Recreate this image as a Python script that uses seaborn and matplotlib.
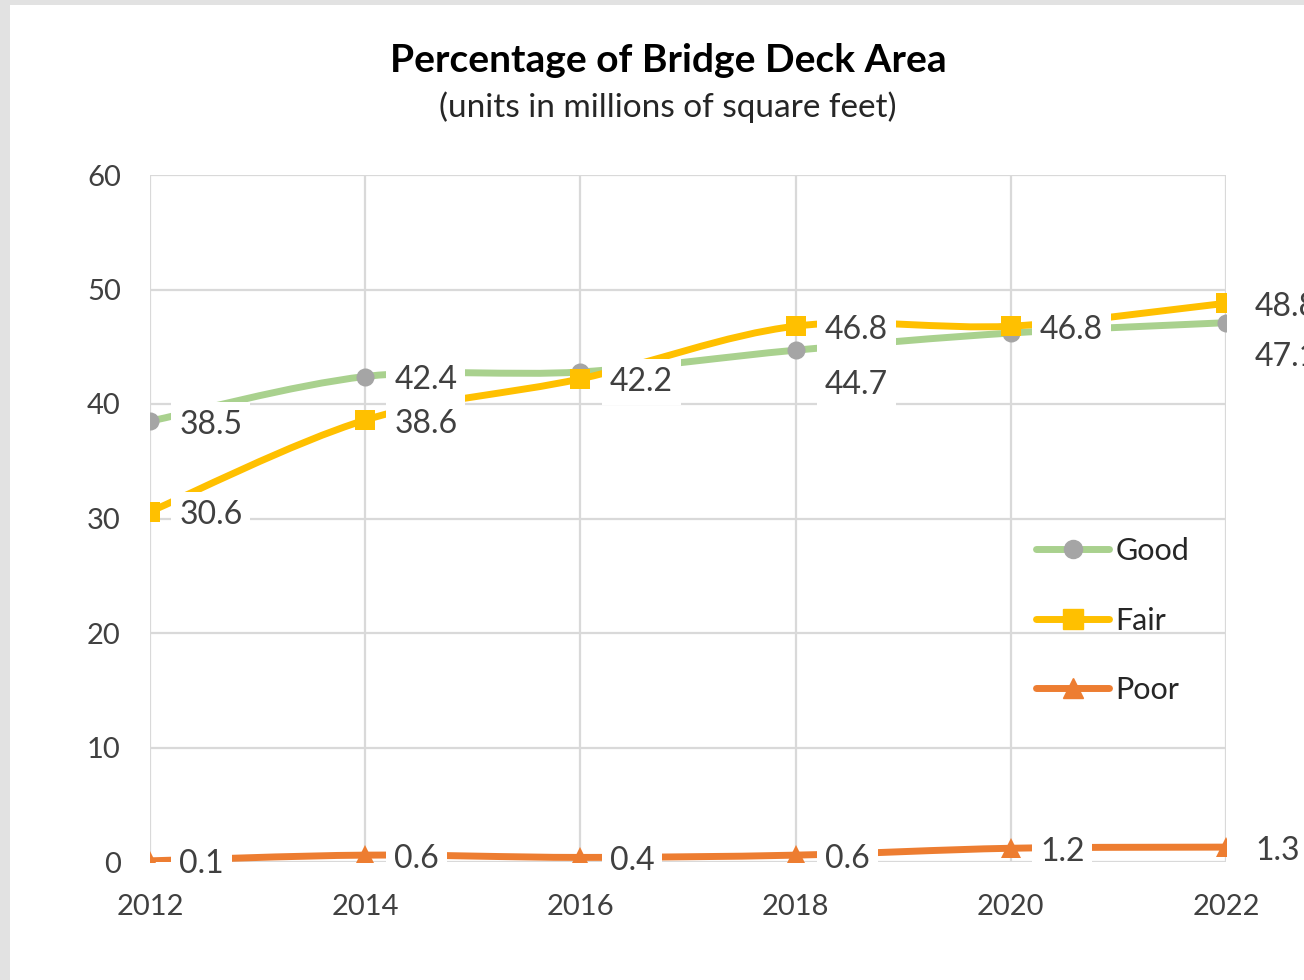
import matplotlib
matplotlib.use("Agg")
import matplotlib.pyplot as plt
import seaborn as sns
import numpy as np
from matplotlib.path import Path
from matplotlib.patches import PathPatch, Rectangle
from matplotlib.lines import Line2D

# ---- data ----
years = [2012, 2014, 2016, 2018, 2020, 2022]
good = [38.5, 42.4, 42.8, 44.7, 46.2, 47.1]
fair = [30.6, 38.6, 42.2, 46.8, 46.8, 48.8]
poor = [0.1, 0.6, 0.4, 0.6, 1.2, 1.3]
series_names = ["Good", "Fair", "Poor"]
# label placement per point (None = no label shown)
good_label_pos = ["right", "right", None, "below", None, "below"]
fair_label_pos = ["right", "right", "right", "right", "right", "right"]
poor_label_pos = ["right", "right", "right", "right", "right", "right"]
y_ticks = [0, 10, 20, 30, 40, 50, 60]
x_ticks = [2012, 2014, 2016, 2018, 2020, 2022]
title = "Percentage of Bridge Deck Area"
subtitle = "(units in millions of square feet)"

sns.set_theme(style="white")
plt.rcParams["font.family"] = ["Lato", "DejaVu Sans"]

W, H = 1304, 980
fig = plt.figure(figsize=(W / 100, H / 100), dpi=100, facecolor="#e2e2e2")
fig.patches.append(Rectangle((10 / W, 0), 1, (H - 5) / H, transform=fig.transFigure,
                             facecolor="white", edgecolor="none", zorder=-5))
ax = fig.add_axes([150 / W, (H - 862) / H, (1226 - 150) / W, (862 - 175) / H])
ax.set_facecolor("white")

line_colors = {"Good": "#A9D18E", "Fair": "#FFC000", "Poor": "#ED7D31"}
marker_colors = {"Good": "#A5A5A5", "Fair": "#FFC000", "Poor": "#ED7D31"}
markers = {"Good": "o", "Fair": "s", "Poor": "^"}
msizes = {"Good": 13, "Fair": 14, "Poor": 14}
values = {"Good": good, "Fair": fair, "Poor": poor}
label_pos = {"Good": good_label_pos, "Fair": fair_label_pos, "Poor": poor_label_pos}


def smooth_path(xs, ys):
    pts = list(zip(xs, ys))
    n = len(pts)
    verts = [pts[0]]
    codes = [Path.MOVETO]
    for i in range(n - 1):
        p0 = pts[i - 1] if i > 0 else pts[i]
        p1 = pts[i]
        p2 = pts[i + 1]
        p3 = pts[i + 2] if i + 2 < n else pts[i + 1]
        c1 = (p1[0] + (p2[0] - p0[0]) / 6, p1[1] + (p2[1] - p0[1]) / 6)
        c2 = (p2[0] - (p3[0] - p1[0]) / 6, p2[1] - (p3[1] - p1[1]) / 6)
        verts += [c1, c2, p2]
        codes += [Path.CURVE4] * 3
    return Path(verts, codes)


for k, name in enumerate(series_names):
    vals = values[name]
    patch = PathPatch(smooth_path(years, vals), fill=False, edgecolor=line_colors[name],
                      lw=5, capstyle="round", joinstyle="round",
                      transform=ax.transData, zorder=3 + k)
    ax.add_patch(patch)
    sns.lineplot(x=years, y=vals, ax=ax, linestyle="", marker=markers[name],
                 markersize=msizes[name], color=marker_colors[name],
                 markeredgecolor=marker_colors[name], markeredgewidth=0,
                 zorder=3.5 + k, legend=False)

# data labels
for name in series_names:
    for x, v, pos in zip(years, values[name], label_pos[name]):
        if pos is None:
            continue
        dy = -2.5 if pos == "right" else -25
        ax.annotate(f"{v:.1f}", (x, v), xytext=(21, dy), textcoords="offset points",
                    ha="left", va="center", fontsize=23, color="#404040", zorder=20,
                    bbox=dict(boxstyle="square,pad=0.25", facecolor="white", edgecolor="none"),
                    annotation_clip=False)

ax.set_xlim(2012, 2022)
ax.set_ylim(0, 60)
ax.set_xticks(x_ticks)
ax.set_yticks(y_ticks)
ax.set_xticklabels([str(t) for t in x_ticks])
ax.set_yticklabels([str(t) for t in y_ticks])
ax.tick_params(axis="both", length=0, labelsize=21, colors="#404040")
ax.tick_params(axis="y", pad=21)
ax.tick_params(axis="x", pad=23)
ax.grid(True, color="#d9d9d9", lw=1.6)
ax.set_axisbelow(True)
for s in ax.spines.values():
    s.set_visible(False)
ax.set_xlabel("")
ax.set_ylabel("")

# legend
handles = [Line2D([0], [0], color=line_colors[n], lw=5, marker=markers[n], markersize=msizes[n],
                  markerfacecolor=marker_colors[n], markeredgecolor=marker_colors[n],
                  solid_capstyle="round") for n in series_names]
leg = ax.legend(handles, series_names, loc="upper left",
                bbox_to_anchor=((1036 - 150) / 1076, (862 - 537) / 687),
                frameon=False, borderaxespad=0, borderpad=0,
                fontsize=22, handlelength=2.4, handletextpad=0.2, labelspacing=1.36,
                numpoints=1, labelcolor="#262626")
leg.set_zorder(30)

fig.text(668 / W, 1 - 60 / H, title, ha="center", va="center", fontsize=28,
         fontweight="bold", color="#000000")
fig.text(668 / W, 1 - 107 / H, subtitle, ha="center", va="center", fontsize=24,
         color="#262626")

fig.savefig("out.png", dpi=100, facecolor=fig.get_facecolor())
